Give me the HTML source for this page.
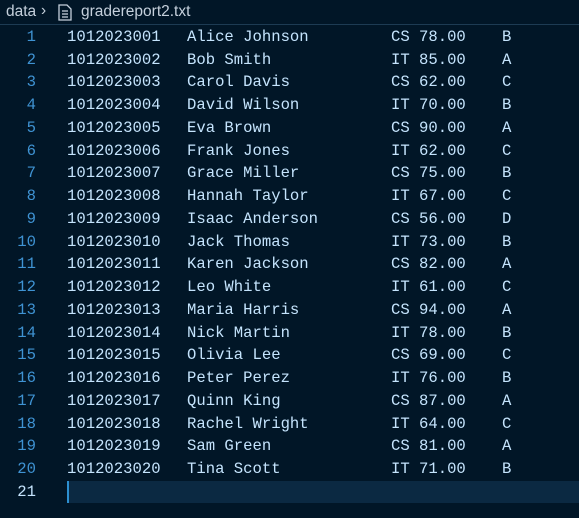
<!DOCTYPE html>
<html><head><meta charset="utf-8"><style>
body{margin:0;width:579px;height:518px;background:#011627;overflow:hidden;position:relative;font-family:"Liberation Mono",monospace;}
.hdr{position:absolute;left:0;top:0;width:579px;height:24px;border-bottom:1px solid #1d3b53;font-family:"Liberation Sans",sans-serif;font-size:15.5px;color:#c5d0dc;}
.row{position:absolute;left:0;height:22px;width:579px;font-size:15.6px;line-height:22px;color:#c5e4fd;white-space:pre;}
.row span{position:absolute;top:0;}
.ln{width:36px;text-align:right;left:0;color:#3f93d3;}
.cur{position:absolute;left:67px;top:481px;width:512px;height:22px;background:#0b2942;}
.caret{position:absolute;left:67px;top:481px;width:2px;height:22px;background:#2c8fd0;}
</style></head><body>
<div class="hdr">
<span style="position:absolute;left:6px;top:3px">data</span>
<span style="position:absolute;left:41px;top:2px">›</span>
<svg style="position:absolute;left:58px;top:4px" width="14" height="17"><path d="M1 1h8l4 4v11H1z" fill="none" stroke="#c5d0dc" stroke-width="1.3"/><path d="M4 7h6M4 10h6M4 13h6" stroke="#c5d0dc" stroke-width="1.2"/></svg>
<span style="position:absolute;left:81px;top:3px">gradereport2.txt</span>
</div>
<div class="cur"></div>
<div class="caret"></div>
<div id="ed"></div>
<script>
const rows=[["1012023001","Alice Johnson","CS","78.00","B"],["1012023002","Bob Smith","IT","85.00","A"],["1012023003","Carol Davis","CS","62.00","C"],["1012023004","David Wilson","IT","70.00","B"],["1012023005","Eva Brown","CS","90.00","A"],["1012023006","Frank Jones","IT","62.00","C"],["1012023007","Grace Miller","CS","75.00","B"],["1012023008","Hannah Taylor","IT","67.00","C"],["1012023009","Isaac Anderson","CS","56.00","D"],["1012023010","Jack Thomas","IT","73.00","B"],["1012023011","Karen Jackson","CS","82.00","A"],["1012023012","Leo White","IT","61.00","C"],["1012023013","Maria Harris","CS","94.00","A"],["1012023014","Nick Martin","IT","78.00","B"],["1012023015","Olivia Lee","CS","69.00","C"],["1012023016","Peter Perez","IT","76.00","B"],["1012023017","Quinn King","CS","87.00","A"],["1012023018","Rachel Wright","IT","64.00","C"],["1012023019","Sam Green","CS","81.00","A"],["1012023020","Tina Scott","IT","71.00","B"]];
const ed=document.getElementById('ed');
const xs=[67,187,391,419,502];
for(let i=0;i<=rows.length;i++){
 const r=document.createElement('div');r.className='row';r.style.top=(26+i*22.74)+'px';
 
 
 const ln=document.createElement('span');ln.className='ln';ln.textContent=i+1;
 
 
 if(i===rows.length)ln.style.color='#c5e4fd';
 r.appendChild(ln);
 if(i<rows.length)rows[i].forEach((t,j)=>{const s=document.createElement('span');s.style.left=xs[j]+'px';s.textContent=t;
  
  
  r.appendChild(s);});
 ed.appendChild(r);
}
</script>
</body></html>
